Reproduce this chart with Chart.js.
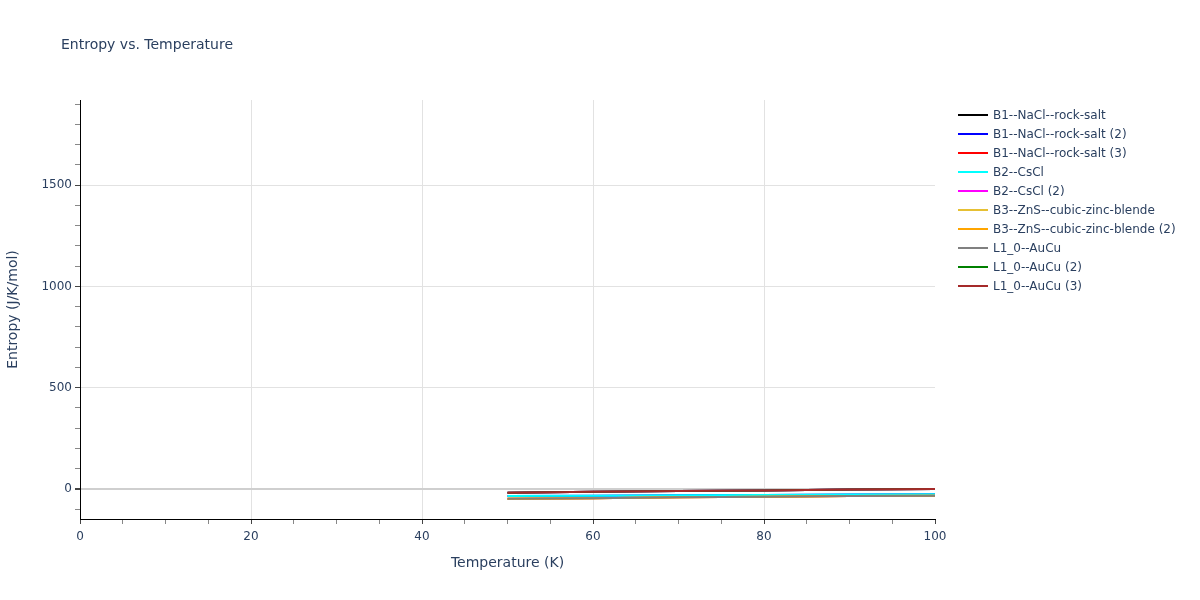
<!DOCTYPE html>
<html>
<head>
<meta charset="utf-8">
<script src="https://cdn.jsdelivr.net/npm/chart.js@4"></script>
<style>
  body { margin: 0; background: #fff; font-family: "DejaVu Sans", sans-serif; }
  #wrap { position: relative; width: 1200px; height: 600px; }
  #title { position: absolute; left: 61px; top: 36px; font-size: 14px; color: #2a3f5f; }
  #legend { position: absolute; left: 958px; top: 105px; font-size: 12px; color: #2a3f5f; }
  .row { height: 19px; display: flex; align-items: center; }
  .swatch { width: 30px; height: 2px; margin-right: 5px; }
</style>
</head>
<body>
<div id="wrap">
  <canvas id="chart" width="1200" height="600"></canvas>
  <div id="title">Entropy vs. Temperature</div>
  <div id="legend"></div>
</div>
<script>
// --- data ---
const temperatures = [50, 60, 70, 80, 90, 100];
const seriesNames = [
    'B1--NaCl--rock-salt', 'B1--NaCl--rock-salt (2)', 'B1--NaCl--rock-salt (3)',
    'B2--CsCl', 'B2--CsCl (2)',
    'B3--ZnS--cubic-zinc-blende', 'B3--ZnS--cubic-zinc-blende (2)',
    'L1_0--AuCu', 'L1_0--AuCu (2)', 'L1_0--AuCu (3)'
];
const seriesColors = ['#000000', '#0000ff', '#ff0000', '#00ffff', '#ff00ff',
    '#e6c034', '#ffa500', '#808080', '#008000', '#a52a2a'];
const nacl1 = [-18, -14, -10, -7, -3, 0];
const nacl2 = [-35, -33, -31, -29, -27, -26];
const nacl3 = [-48, -45, -41, -38, -35, -33];
const cscl1 = [-35, -33, -31, -29, -27, -26];
const cscl2 = [-18, -14, -10, -7, -3, 0];
const zns1 = [-48, -45, -41, -38, -35, -33];
const zns2 = [-48, -45, -41, -38, -35, -33];
const aucu1 = [-48, -45, -41, -38, -35, -33];
const aucu2 = [-18, -14, -10, -7, -3, 0];
const aucu3 = [-18, -14, -10, -7, -3, 0];
const seriesValues = [nacl1, nacl2, nacl3, cscl1, cscl2, zns1, zns2, aucu1, aucu2, aucu3];

const xTicks = [];
for (let t = 0; t <= 100; t += 5) xTicks.push(t);
const yTicks = [];
for (let v = -100; v <= 1900; v += 100) yTicks.push(v);

const font = { family: "'DejaVu Sans', sans-serif", size: 12 };
const textColor = '#2a3f5f';

const datasets = seriesNames.map((name, i) => ({
    label: name,
    data: temperatures.map((t, j) => ({ x: t, y: seriesValues[i][j] })),
    borderColor: seriesColors[i],
    backgroundColor: seriesColors[i],
    borderWidth: 2,
    pointRadius: 0,
    tension: 0,
    order: seriesNames.length - i // later traces on top, like plotly
}));

new Chart(document.getElementById('chart'), {
    type: 'line',
    data: { datasets },
    options: {
        responsive: false,
        animation: false,
        layout: { padding: { top: 100, right: 265, left: 0, bottom: 0 } },
        plugins: { legend: { display: false }, tooltip: { enabled: false } },
        scales: {
            x: {
                type: 'linear', min: 0, max: 100,
                afterBuildTicks: s => { s.ticks = xTicks.map(v => ({ value: v })); },
                afterFit: s => { s.height = 81; },
                ticks: {
                    autoSkip: false, maxRotation: 0, padding: 6, color: textColor, font,
                    callback: v => (v % 20 === 0 ? v : '')
                },
                grid: {
                    color: c => (c.tick && c.tick.value % 20 === 0 && c.tick.value > 0 && c.tick.value < 100) ? '#e2e2e2' : 'rgba(0,0,0,0)',
                    tickColor: c => (c.tick && c.tick.value % 20 === 0) ? '#444' : '#888',
                    tickLength: 5, lineWidth: 1
                },
                border: { color: '#000', width: 1 },
                title: { display: true, text: 'Temperature (K)', color: textColor,
                    font: { family: font.family, size: 14 }, padding: { top: 0, bottom: 28 } }
            },
            y: {
                type: 'linear', min: -148, max: 1920,
                afterBuildTicks: s => { s.ticks = yTicks.map(v => ({ value: v })); },
                afterFit: s => { s.width = 80; },
                ticks: {
                    autoSkip: false, padding: 3, color: textColor, font,
                    callback: v => (v % 500 === 0 ? v : '')
                },
                grid: {
                    color: c => {
                        if (!c.tick) return 'rgba(0,0,0,0)';
                        if (c.tick.value === 0) return '#cfcfcf';
                        return c.tick.value % 500 === 0 ? '#e2e2e2' : 'rgba(0,0,0,0)';
                    },
                    lineWidth: c => (c.tick && c.tick.value === 0 ? 2 : 1),
                    tickColor: c => (c.tick && c.tick.value % 500 === 0) ? '#444' : '#888',
                    tickLength: 5
                },
                border: { color: '#000', width: 1 },
                title: { display: true, text: 'Entropy (J/K/mol)', color: textColor,
                    font: { family: font.family, size: 14 }, padding: { top: 5, bottom: 0 } }
            }
        }
    }
});

// --- HTML legend ---
const legendBox = document.getElementById('legend');
seriesNames.forEach((name, i) => {
    legendBox.innerHTML += `<div class="row"><span class="swatch" style="background:${seriesColors[i]}"></span>${name}</div>`;
});
</script>
</body>
</html>
